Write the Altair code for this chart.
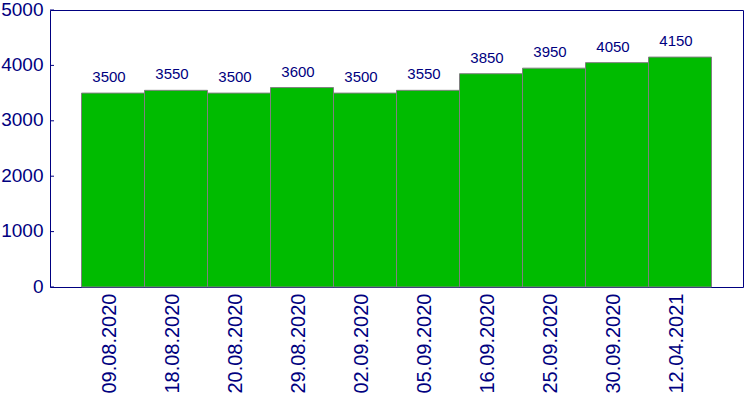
import altair as alt
import pandas as pd

dates = ["09.08.2020", "18.08.2020", "20.08.2020", "29.08.2020", "02.09.2020",
         "05.09.2020", "16.09.2020", "25.09.2020", "30.09.2020", "12.04.2021"]
values = [3500, 3550, 3500, 3600, 3500, 3550, 3850, 3950, 4050, 4150]
y_ticks = [0, 1000, 2000, 3000, 4000, 5000]

NAVY = "#000080"
FONT = "Liberation Sans"

df = pd.DataFrame({"date": dates, "value": values})
tdf = pd.DataFrame({"t": y_ticks})

xenc = alt.X("date:N", sort=dates,
             scale=alt.Scale(paddingInner=0, paddingOuter=0.5),
             axis=alt.Axis(title=None, labelAngle=270, labelAlign="right",
                           labelBaseline="middle", labelColor=NAVY,
                           labelFontSize=20, labelFont=FONT, labelPadding=6,
                           labelOffset=-3, ticks=False, domain=False))
yscale = alt.Scale(domain=[0, 5000], nice=False)
yenc = alt.Y("value:Q", scale=yscale,
             axis=alt.Axis(title=None, values=y_ticks, format="d", labelColor=NAVY,
                           labelFontSize=19, labelFont=FONT, labelPadding=7,
                           labelOffset=-1, ticks=False, domain=False, grid=False))

bars = alt.Chart(df).mark_bar(color="#00BB00", stroke="#808080", strokeWidth=1).encode(
    x=xenc, y=yenc)

labels = alt.Chart(df).mark_text(color=NAVY, fontSize=15, font=FONT,
                                 baseline="bottom", dy=-8, dx=-4).encode(
    x=alt.X("date:N", sort=dates), y=alt.Y("value:Q"), text="value:Q")

ticks = alt.Chart(tdf).mark_rule(color=NAVY, strokeWidth=1).encode(
    y=alt.Y("t:Q", scale=yscale), x=alt.value(0), x2=alt.value(4))

chart = alt.layer(bars, labels, ticks).properties(
    width=693, height=277,
    autosize=alt.AutoSizeParams(type="none"),
    padding={"left": 50, "top": 10, "right": 7, "bottom": 113},
    background="white",
).configure_view(stroke=NAVY, strokeWidth=1)

chart.save("out.html", embed_options={"renderer": "svg", "actions": False})
